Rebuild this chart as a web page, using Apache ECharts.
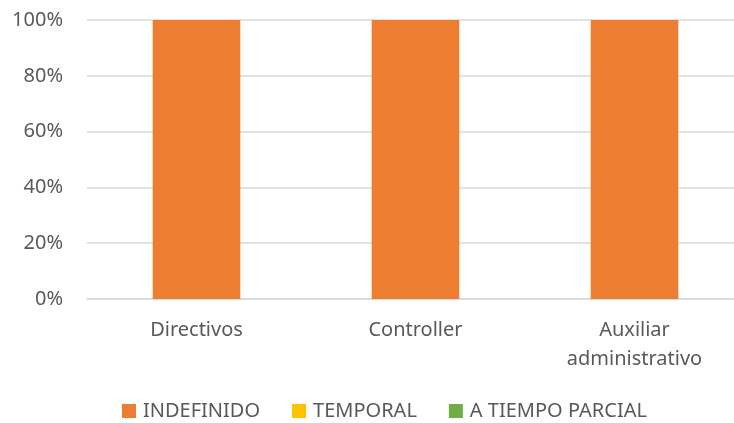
<!DOCTYPE html>
<html>
<head>
<meta charset="utf-8">
<script src="https://cdn.jsdelivr.net/npm/echarts@6/dist/echarts.min.js"></script>
<style>
  html, body { margin: 0; padding: 0; background: #fff; overflow: hidden; }
  #chart { width: 744px; height: 423px; }
</style>
</head>
<body>
<div id="chart"></div>
<script>
// categorias y series (porcentaje)
var categorias = ['Directivos', 'Controller', 'Auxiliar\nadministrativo'];
var indefinido = [100, 100, 100];
var temporal = [0, 0, 0];
var tiempoParcial = [0, 0, 0];
var yTicks = [0, 20, 40, 60, 80, 100];

var fuente = 'Noto Sans';
var gris = '#595959';

// el area de trazado sigue mas alla del borde derecho, como en la imagen original
var myChart = echarts.init(document.getElementById('chart'));
var option = {
    animation: false,
    grid: { left: 87, top: 20, right: 0, height: 279, containLabel: false },
    legend: {
        left: 122,
        top: 401,
        padding: 0,
        itemWidth: 14,
        itemHeight: 14,
        itemGap: 32,
        icon: 'rect',
        textStyle: { fontFamily: fuente, fontSize: 20, color: gris, padding: [0, 0, 0, 2] },
        data: ['INDEFINIDO', 'TEMPORAL', 'A TIEMPO PARCIAL']
    },
    xAxis: {
        type: 'category',
        data: categorias,
        axisTick: { show: false },
        axisLine: { lineStyle: { color: '#d9d9d9', width: 1.5 } },
        axisLabel: {
            margin: 17,
            fontFamily: fuente,
            fontSize: 20,
            color: gris,
            lineHeight: 29
        }
    },
    yAxis: {
        type: 'value',
        min: 0,
        max: 100,
        interval: 20,
        axisLine: { show: false },
        axisTick: { show: false },
        splitLine: { lineStyle: { color: '#d9d9d9', width: 1.5 } },
        axisLabel: {
            margin: 24,
            fontFamily: fuente,
            fontSize: 20,
            color: gris,
            formatter: function (v) { return yTicks.indexOf(v) >= 0 ? v + '%' : ''; }
        }
    },
    series: [
        {
            name: 'INDEFINIDO', type: 'bar', stack: 'total', data: indefinido,
            barWidth: '40%', itemStyle: { color: '#ED7D31' }
        },
        {
            name: 'TEMPORAL', type: 'bar', stack: 'total', data: temporal,
            barWidth: '40%', itemStyle: { color: '#FFC000' }
        },
        {
            name: 'A TIEMPO PARCIAL', type: 'bar', stack: 'total', data: tiempoParcial,
            barWidth: '40%', itemStyle: { color: '#70AD47' }
        }
    ]
};
myChart.setOption(option);
</script>
</body>
</html>
